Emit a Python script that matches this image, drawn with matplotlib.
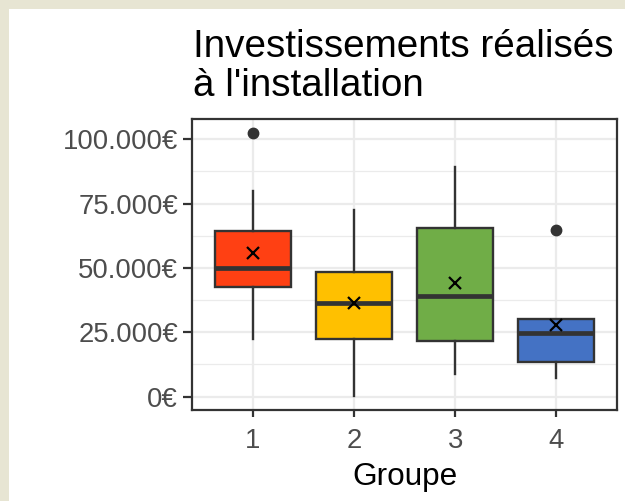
import matplotlib
matplotlib.use("Agg")
import matplotlib.pyplot as plt
from matplotlib.patches import Rectangle
from matplotlib.ticker import FuncFormatter, MultipleLocator

plt.rcParams['font.family'] = ['Liberation Sans', 'DejaVu Sans']

groups = ['1', '2', '3', '4']
whislo = [22300, 400, 8800, 7100]
q1 = [42700, 22400, 21800, 13400]
med = [50000, 36500, 39100, 24900]
q3 = [64500, 48600, 65400, 30100]
whishi = [80000, 72500, 89100, 30100]
means = [55700, 36300, 44000, 27900]
outliers = [[102600], [], [], [64800]]
colors = ['#FF4013', '#FFC000', '#70AD47', '#4472C4']

stats = []
for i in range(len(groups)):
    stats.append({'label': groups[i], 'whislo': whislo[i], 'q1': q1[i], 'med': med[i],
                  'q3': q3[i], 'whishi': whishi[i], 'mean': means[i], 'fliers': outliers[i]})

fig = plt.figure(figsize=(6.25, 5.01), dpi=100)
fig.patch.set_facecolor('#E7E5D3')
fig.patches.append(Rectangle((9 / 625, 0), 1, 1 - 9 / 501, transform=fig.transFigure,
                             facecolor='white', edgecolor='none', zorder=-10))

ax = fig.add_axes([192 / 625, 1 - 410 / 501, (617 - 192) / 625, (410 - 119) / 501])
ax.set_zorder(5)
pos = list(range(1, len(groups) + 1))
bp = ax.bxp(stats, positions=pos, widths=0.75, patch_artist=True, showmeans=True,
            showcaps=False,
            boxprops=dict(edgecolor='#333333', linewidth=1.7),
            whiskerprops=dict(color='#333333', linewidth=1.7),
            medianprops=dict(color='#333333', linewidth=3.4),
            meanprops=dict(marker='x', markeredgecolor='black', markersize=9, markeredgewidth=1.6),
            flierprops=dict(marker='o', markerfacecolor='#333333', markeredgecolor='#333333',
                            markersize=7.5))
for patch, c in zip(bp['boxes'], colors):
    patch.set_facecolor(c)

ax.set_xlim(0.4, 4.6)
ax.set_ylim(-5200, 107900)
ax.yaxis.set_major_locator(MultipleLocator(25000))
ax.yaxis.set_minor_locator(MultipleLocator(12500))
ax.yaxis.set_major_formatter(FuncFormatter(lambda v, p: '{:,.0f}€'.format(v).replace(',', '.')))
ax.set_xticks(pos)
ax.set_xticklabels(groups)
ax.grid(which='major', color='#EBEBEB', linewidth=1.6, zorder=0)
ax.grid(which='minor', axis='y', color='#EBEBEB', linewidth=0.9, zorder=0)
ax.set_axisbelow(True)
for s in ax.spines.values():
    s.set_color('#333333')
    s.set_linewidth(1.6)
ax.tick_params(which='major', width=1.6, color='#333333', labelsize=19.8,
               labelcolor='#4D4D4D')
ax.tick_params(axis='x', length=5, pad=8)
ax.tick_params(axis='y', length=6.5, pad=3.5)
ax.tick_params(which='minor', length=0)
ax.set_xlabel('Groupe', fontsize=22.7, color='black', labelpad=5.5)

fig.text(193 / 625, 1 - 29 / 501, "Investissements réalisés\nà l'installation",
         fontsize=27.8, ha='left', va='top', linespacing=1.1)

fig.savefig('out.png', dpi=100, facecolor=fig.get_facecolor())
